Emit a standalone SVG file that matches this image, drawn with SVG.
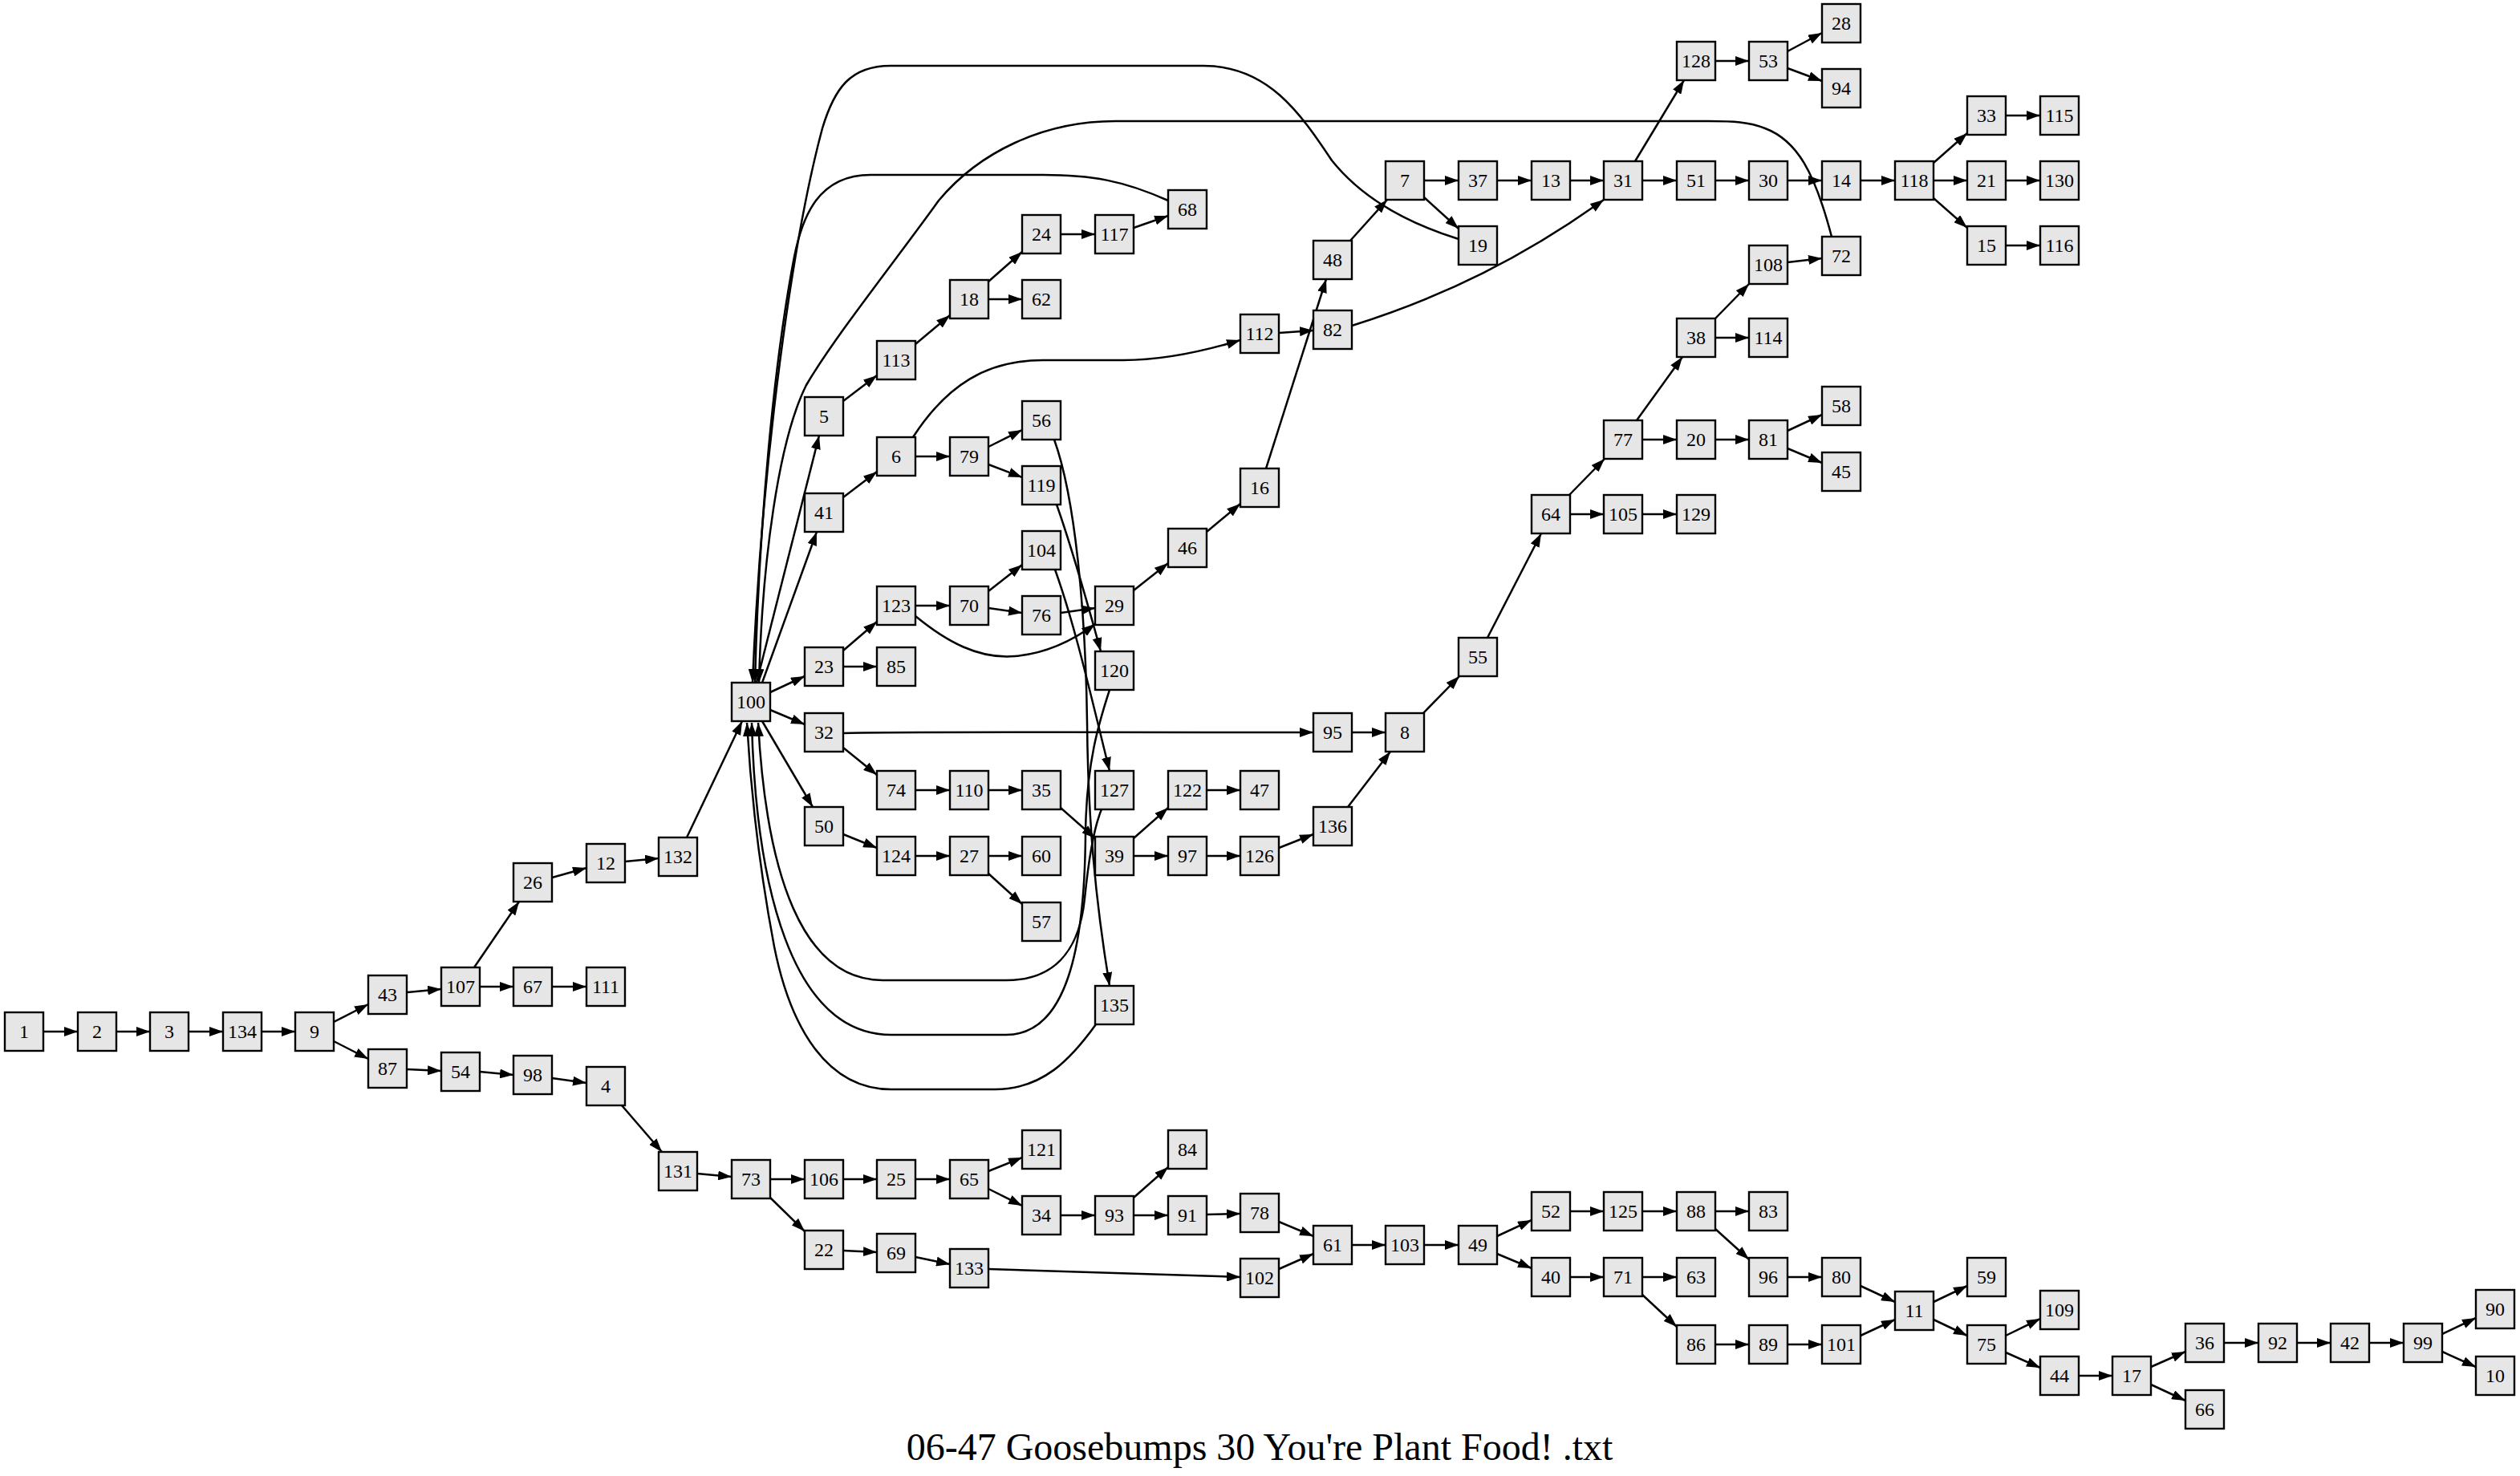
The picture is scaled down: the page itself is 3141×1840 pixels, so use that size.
<svg xmlns="http://www.w3.org/2000/svg" width="3141" height="1840" viewBox="0 0 3141 1840">
<style>
.node rect{fill:#e6e6e6;stroke:#000;stroke-width:2.4}
.node text{font-family:"Liberation Serif","Times New Roman",serif;font-size:24px;text-anchor:middle;fill:#000}
#edges path{fill:none;stroke:#000;stroke-width:2.5;marker-end:url(#ah)}
.title{font-family:"Liberation Serif","Times New Roman",serif;font-size:48px;text-anchor:middle;fill:#000}
</style>
<defs>
<marker id="ah" viewBox="0 0 17 12" refX="17" refY="6" markerWidth="17" markerHeight="12" markerUnits="userSpaceOnUse" orient="auto"><path d="M0,0 L17,6 L0,12 z" fill="#000"/></marker>
</defs>
<rect width="3141" height="1840" fill="#fff"/>
<g id="edges">
<path d="M54 1286L97 1286"/>
<path d="M145 1286L187 1286"/>
<path d="M235 1286L278 1286"/>
<path d="M326 1286L368 1286"/>
<path d="M416 1274L459 1252"/>
<path d="M416 1298L459 1320"/>
<path d="M507 1237L550 1233"/>
<path d="M598 1230L640 1230"/>
<path d="M688 1230L731 1230"/>
<path d="M591 1206L647 1124"/>
<path d="M688 1094L731 1082"/>
<path d="M779 1074L821 1070"/>
<path d="M856 1044L925 899"/>
<path d="M507 1333L550 1335"/>
<path d="M598 1336L640 1340"/>
<path d="M688 1344L731 1350"/>
<path d="M775 1378L825 1436"/>
<path d="M869 1463L912 1467"/>
<path d="M960 1470L1003 1470"/>
<path d="M1051 1470L1093 1470"/>
<path d="M1141 1470L1184 1470"/>
<path d="M1232 1460L1274 1443"/>
<path d="M1232 1482L1274 1503"/>
<path d="M1322 1515L1365 1515"/>
<path d="M1413 1493L1456 1455"/>
<path d="M1413 1515L1456 1515"/>
<path d="M1504 1514L1546 1513"/>
<path d="M1594 1523L1637 1541"/>
<path d="M960 1493L1003 1535"/>
<path d="M1051 1559L1093 1561"/>
<path d="M1141 1567L1184 1576"/>
<path d="M1232 1582L1546 1592"/>
<path d="M1594 1582L1637 1563"/>
<path d="M1685 1552L1727 1552"/>
<path d="M1775 1552L1818 1552"/>
<path d="M1866 1541L1909 1521"/>
<path d="M1866 1563L1909 1581"/>
<path d="M1957 1510L1999 1510"/>
<path d="M2047 1510L2090 1510"/>
<path d="M2138 1510L2180 1510"/>
<path d="M2138 1532L2180 1570"/>
<path d="M2228 1592L2271 1592"/>
<path d="M2319 1603L2362 1623"/>
<path d="M1957 1592L1999 1592"/>
<path d="M2047 1592L2090 1592"/>
<path d="M2047 1614L2090 1654"/>
<path d="M2138 1676L2180 1676"/>
<path d="M2228 1676L2271 1676"/>
<path d="M2319 1665L2362 1645"/>
<path d="M2410 1623L2452 1603"/>
<path d="M2410 1645L2452 1665"/>
<path d="M2500 1665L2543 1644"/>
<path d="M2500 1686L2543 1705"/>
<path d="M2591 1715L2633 1715"/>
<path d="M2681 1704L2724 1685"/>
<path d="M2681 1726L2724 1746"/>
<path d="M2772 1674L2815 1674"/>
<path d="M2863 1674L2905 1674"/>
<path d="M2953 1674L2996 1674"/>
<path d="M3044 1663L3086 1643"/>
<path d="M3044 1685L3086 1704"/>
<path d="M943 851L1021 543"/>
<path d="M950 851L1018 663"/>
<path d="M960 863L1003 843"/>
<path d="M960 885L1003 903"/>
<path d="M950 899L1013 1006"/>
<path d="M1051 500L1093 468"/>
<path d="M1141 429L1184 393"/>
<path d="M1232 351L1274 314"/>
<path d="M1232 373L1274 373"/>
<path d="M1322 292L1365 292"/>
<path d="M1413 284L1456 269"/>
<path d="M1051 620L1093 588"/>
<path d="M1141 569L1184 569"/>
<path d="M1232 557L1274 536"/>
<path d="M1232 579L1274 595"/>
<path d="M1051 811L1093 775"/>
<path d="M1051 831L1093 831"/>
<path d="M1141 755L1184 755"/>
<path d="M1232 737L1274 704"/>
<path d="M1232 758L1274 764"/>
<path d="M1322 764L1365 758"/>
<path d="M1413 736L1456 702"/>
<path d="M1504 663L1546 628"/>
<path d="M1578 584L1653 348"/>
<path d="M1683 300L1729 249"/>
<path d="M1775 225L1818 225"/>
<path d="M1866 225L1909 225"/>
<path d="M1957 225L1999 225"/>
<path d="M1775 246L1818 285"/>
<path d="M2047 225L2090 225"/>
<path d="M2138 225L2180 225"/>
<path d="M2228 225L2271 225"/>
<path d="M2319 225L2362 225"/>
<path d="M2410 203L2452 166"/>
<path d="M2410 225L2452 225"/>
<path d="M2410 247L2452 284"/>
<path d="M2500 144L2543 144"/>
<path d="M2500 225L2543 225"/>
<path d="M2500 306L2543 306"/>
<path d="M2038 201L2099 100"/>
<path d="M2138 76L2180 76"/>
<path d="M2228 64L2271 41"/>
<path d="M2228 85L2271 101"/>
<path d="M1594 415L1637 412"/>
<path d="M1051 914C1100 912 1200 913 1637 913"/>
<path d="M1685 913L1727 913"/>
<path d="M1774 889L1819 843"/>
<path d="M1854 795L1921 665"/>
<path d="M1956 617L2000 572"/>
<path d="M1957 641L1999 641"/>
<path d="M2047 641L2090 641"/>
<path d="M2040 524L2097 445"/>
<path d="M2047 548L2090 548"/>
<path d="M2138 548L2180 548"/>
<path d="M2228 537L2271 517"/>
<path d="M2228 559L2271 577"/>
<path d="M2138 397L2180 354"/>
<path d="M2138 421L2180 421"/>
<path d="M2228 327L2271 322"/>
<path d="M1141 985L1184 985"/>
<path d="M1232 985L1274 985"/>
<path d="M1322 1007L1365 1045"/>
<path d="M1051 1040L1093 1057"/>
<path d="M1141 1067L1184 1067"/>
<path d="M1232 1067L1274 1067"/>
<path d="M1232 1089L1274 1127"/>
<path d="M1051 932L1093 966"/>
<path d="M1413 1045L1456 1007"/>
<path d="M1504 985L1546 985"/>
<path d="M1413 1067L1456 1067"/>
<path d="M1504 1067L1546 1067"/>
<path d="M1594 1057L1637 1040"/>
<path d="M1680 1006L1733 937"/>
<path d="M1818 298C1760 280 1700 250 1660 200C1620 140 1580 82 1500 82L1110 82C1060 82 1040 110 1025 160C990 290 950 560 938 851"/>
<path d="M1456 250C1400 225 1360 218 1300 218L1085 218C1020 218 1000 270 990 320C965 450 946 650 941 851"/>
<path d="M2283 295C2262 215 2240 175 2200 160C2180 152 2160 151 2130 151L1390 151C1300 151 1220 190 1170 250C1120 320 1040 420 1005 480C970 550 950 700 946 851"/>
<path d="M1138 545C1180 480 1230 449 1300 449L1400 449C1450 449 1500 438 1546 424"/>
<path d="M1685 406C1800 370 1900 320 1999 249"/>
<path d="M1141 768C1180 800 1220 822 1265 818C1300 815 1335 800 1365 778"/>
<path d="M1314 548C1340 620 1353 760 1355 900C1356 1020 1365 1120 1383 1229"/>
<path d="M1317 629C1335 680 1355 750 1372 812"/>
<path d="M1315 710C1340 780 1358 860 1383 961"/>
<path d="M1373 1009C1362 1035 1356 1080 1352 1120C1345 1190 1310 1222 1254 1222L1100 1222C1000 1222 955 1090 945 901"/>
<path d="M1383 860C1370 900 1354 950 1353 1040C1352 1180 1330 1290 1254 1290L1111 1290C985 1290 942 1100 937 901"/>
<path d="M1366 1277C1335 1320 1300 1358 1240 1358L1111 1358C1030 1358 985 1280 965 1180C948 1090 936 990 931 901"/>
</g>
<g id="n1" class="node"><rect x="6" y="1262" width="48" height="48"/><text x="30" y="1294">1</text></g>
<g id="n2" class="node"><rect x="97" y="1262" width="48" height="48"/><text x="121" y="1294">2</text></g>
<g id="n3" class="node"><rect x="187" y="1262" width="48" height="48"/><text x="211" y="1294">3</text></g>
<g id="n134" class="node"><rect x="278" y="1262" width="48" height="48"/><text x="302" y="1294">134</text></g>
<g id="n9" class="node"><rect x="368" y="1262" width="48" height="48"/><text x="392" y="1294">9</text></g>
<g id="n43" class="node"><rect x="459" y="1216" width="48" height="48"/><text x="483" y="1248">43</text></g>
<g id="n87" class="node"><rect x="459" y="1308" width="48" height="48"/><text x="483" y="1340">87</text></g>
<g id="n107" class="node"><rect x="550" y="1206" width="48" height="48"/><text x="574" y="1238">107</text></g>
<g id="n54" class="node"><rect x="550" y="1312" width="48" height="48"/><text x="574" y="1344">54</text></g>
<g id="n26" class="node"><rect x="640" y="1076" width="48" height="48"/><text x="664" y="1108">26</text></g>
<g id="n67" class="node"><rect x="640" y="1206" width="48" height="48"/><text x="664" y="1238">67</text></g>
<g id="n98" class="node"><rect x="640" y="1316" width="48" height="48"/><text x="664" y="1348">98</text></g>
<g id="n12" class="node"><rect x="731" y="1052" width="48" height="48"/><text x="755" y="1084">12</text></g>
<g id="n111" class="node"><rect x="731" y="1206" width="48" height="48"/><text x="755" y="1238">111</text></g>
<g id="n4" class="node"><rect x="731" y="1330" width="48" height="48"/><text x="755" y="1362">4</text></g>
<g id="n132" class="node"><rect x="821" y="1044" width="48" height="48"/><text x="845" y="1076">132</text></g>
<g id="n131" class="node"><rect x="821" y="1436" width="48" height="48"/><text x="845" y="1468">131</text></g>
<g id="n100" class="node"><rect x="912" y="851" width="48" height="48"/><text x="936" y="883">100</text></g>
<g id="n73" class="node"><rect x="912" y="1446" width="48" height="48"/><text x="936" y="1478">73</text></g>
<g id="n5" class="node"><rect x="1003" y="495" width="48" height="48"/><text x="1027" y="527">5</text></g>
<g id="n41" class="node"><rect x="1003" y="615" width="48" height="48"/><text x="1027" y="647">41</text></g>
<g id="n23" class="node"><rect x="1003" y="807" width="48" height="48"/><text x="1027" y="839">23</text></g>
<g id="n32" class="node"><rect x="1003" y="889" width="48" height="48"/><text x="1027" y="921">32</text></g>
<g id="n50" class="node"><rect x="1003" y="1006" width="48" height="48"/><text x="1027" y="1038">50</text></g>
<g id="n106" class="node"><rect x="1003" y="1446" width="48" height="48"/><text x="1027" y="1478">106</text></g>
<g id="n22" class="node"><rect x="1003" y="1534" width="48" height="48"/><text x="1027" y="1566">22</text></g>
<g id="n113" class="node"><rect x="1093" y="425" width="48" height="48"/><text x="1117" y="457">113</text></g>
<g id="n6" class="node"><rect x="1093" y="545" width="48" height="48"/><text x="1117" y="577">6</text></g>
<g id="n123" class="node"><rect x="1093" y="731" width="48" height="48"/><text x="1117" y="763">123</text></g>
<g id="n85" class="node"><rect x="1093" y="807" width="48" height="48"/><text x="1117" y="839">85</text></g>
<g id="n74" class="node"><rect x="1093" y="961" width="48" height="48"/><text x="1117" y="993">74</text></g>
<g id="n124" class="node"><rect x="1093" y="1043" width="48" height="48"/><text x="1117" y="1075">124</text></g>
<g id="n25" class="node"><rect x="1093" y="1446" width="48" height="48"/><text x="1117" y="1478">25</text></g>
<g id="n69" class="node"><rect x="1093" y="1538" width="48" height="48"/><text x="1117" y="1570">69</text></g>
<g id="n18" class="node"><rect x="1184" y="349" width="48" height="48"/><text x="1208" y="381">18</text></g>
<g id="n79" class="node"><rect x="1184" y="545" width="48" height="48"/><text x="1208" y="577">79</text></g>
<g id="n70" class="node"><rect x="1184" y="731" width="48" height="48"/><text x="1208" y="763">70</text></g>
<g id="n110" class="node"><rect x="1184" y="961" width="48" height="48"/><text x="1208" y="993">110</text></g>
<g id="n27" class="node"><rect x="1184" y="1043" width="48" height="48"/><text x="1208" y="1075">27</text></g>
<g id="n65" class="node"><rect x="1184" y="1446" width="48" height="48"/><text x="1208" y="1478">65</text></g>
<g id="n133" class="node"><rect x="1184" y="1557" width="48" height="48"/><text x="1208" y="1589">133</text></g>
<g id="n24" class="node"><rect x="1274" y="268" width="48" height="48"/><text x="1298" y="300">24</text></g>
<g id="n62" class="node"><rect x="1274" y="349" width="48" height="48"/><text x="1298" y="381">62</text></g>
<g id="n56" class="node"><rect x="1274" y="500" width="48" height="48"/><text x="1298" y="532">56</text></g>
<g id="n119" class="node"><rect x="1274" y="581" width="48" height="48"/><text x="1298" y="613">119</text></g>
<g id="n104" class="node"><rect x="1274" y="662" width="48" height="48"/><text x="1298" y="694">104</text></g>
<g id="n76" class="node"><rect x="1274" y="743" width="48" height="48"/><text x="1298" y="775">76</text></g>
<g id="n35" class="node"><rect x="1274" y="961" width="48" height="48"/><text x="1298" y="993">35</text></g>
<g id="n60" class="node"><rect x="1274" y="1043" width="48" height="48"/><text x="1298" y="1075">60</text></g>
<g id="n57" class="node"><rect x="1274" y="1125" width="48" height="48"/><text x="1298" y="1157">57</text></g>
<g id="n121" class="node"><rect x="1274" y="1409" width="48" height="48"/><text x="1298" y="1441">121</text></g>
<g id="n34" class="node"><rect x="1274" y="1491" width="48" height="48"/><text x="1298" y="1523">34</text></g>
<g id="n117" class="node"><rect x="1365" y="268" width="48" height="48"/><text x="1389" y="300">117</text></g>
<g id="n29" class="node"><rect x="1365" y="731" width="48" height="48"/><text x="1389" y="763">29</text></g>
<g id="n120" class="node"><rect x="1365" y="812" width="48" height="48"/><text x="1389" y="844">120</text></g>
<g id="n127" class="node"><rect x="1365" y="961" width="48" height="48"/><text x="1389" y="993">127</text></g>
<g id="n39" class="node"><rect x="1365" y="1043" width="48" height="48"/><text x="1389" y="1075">39</text></g>
<g id="n135" class="node"><rect x="1365" y="1229" width="48" height="48"/><text x="1389" y="1261">135</text></g>
<g id="n93" class="node"><rect x="1365" y="1491" width="48" height="48"/><text x="1389" y="1523">93</text></g>
<g id="n68" class="node"><rect x="1456" y="237" width="48" height="48"/><text x="1480" y="269">68</text></g>
<g id="n46" class="node"><rect x="1456" y="659" width="48" height="48"/><text x="1480" y="691">46</text></g>
<g id="n122" class="node"><rect x="1456" y="961" width="48" height="48"/><text x="1480" y="993">122</text></g>
<g id="n97" class="node"><rect x="1456" y="1043" width="48" height="48"/><text x="1480" y="1075">97</text></g>
<g id="n84" class="node"><rect x="1456" y="1409" width="48" height="48"/><text x="1480" y="1441">84</text></g>
<g id="n91" class="node"><rect x="1456" y="1491" width="48" height="48"/><text x="1480" y="1523">91</text></g>
<g id="n112" class="node"><rect x="1546" y="392" width="48" height="48"/><text x="1570" y="424">112</text></g>
<g id="n16" class="node"><rect x="1546" y="584" width="48" height="48"/><text x="1570" y="616">16</text></g>
<g id="n47" class="node"><rect x="1546" y="961" width="48" height="48"/><text x="1570" y="993">47</text></g>
<g id="n126" class="node"><rect x="1546" y="1043" width="48" height="48"/><text x="1570" y="1075">126</text></g>
<g id="n78" class="node"><rect x="1546" y="1488" width="48" height="48"/><text x="1570" y="1520">78</text></g>
<g id="n102" class="node"><rect x="1546" y="1569" width="48" height="48"/><text x="1570" y="1601">102</text></g>
<g id="n48" class="node"><rect x="1637" y="300" width="48" height="48"/><text x="1661" y="332">48</text></g>
<g id="n82" class="node"><rect x="1637" y="387" width="48" height="48"/><text x="1661" y="419">82</text></g>
<g id="n95" class="node"><rect x="1637" y="889" width="48" height="48"/><text x="1661" y="921">95</text></g>
<g id="n136" class="node"><rect x="1637" y="1006" width="48" height="48"/><text x="1661" y="1038">136</text></g>
<g id="n61" class="node"><rect x="1637" y="1528" width="48" height="48"/><text x="1661" y="1560">61</text></g>
<g id="n7" class="node"><rect x="1727" y="201" width="48" height="48"/><text x="1751" y="233">7</text></g>
<g id="n8" class="node"><rect x="1727" y="889" width="48" height="48"/><text x="1751" y="921">8</text></g>
<g id="n103" class="node"><rect x="1727" y="1528" width="48" height="48"/><text x="1751" y="1560">103</text></g>
<g id="n37" class="node"><rect x="1818" y="201" width="48" height="48"/><text x="1842" y="233">37</text></g>
<g id="n19" class="node"><rect x="1818" y="282" width="48" height="48"/><text x="1842" y="314">19</text></g>
<g id="n55" class="node"><rect x="1818" y="795" width="48" height="48"/><text x="1842" y="827">55</text></g>
<g id="n49" class="node"><rect x="1818" y="1528" width="48" height="48"/><text x="1842" y="1560">49</text></g>
<g id="n13" class="node"><rect x="1909" y="201" width="48" height="48"/><text x="1933" y="233">13</text></g>
<g id="n64" class="node"><rect x="1909" y="617" width="48" height="48"/><text x="1933" y="649">64</text></g>
<g id="n52" class="node"><rect x="1909" y="1486" width="48" height="48"/><text x="1933" y="1518">52</text></g>
<g id="n40" class="node"><rect x="1909" y="1568" width="48" height="48"/><text x="1933" y="1600">40</text></g>
<g id="n31" class="node"><rect x="1999" y="201" width="48" height="48"/><text x="2023" y="233">31</text></g>
<g id="n77" class="node"><rect x="1999" y="524" width="48" height="48"/><text x="2023" y="556">77</text></g>
<g id="n105" class="node"><rect x="1999" y="617" width="48" height="48"/><text x="2023" y="649">105</text></g>
<g id="n125" class="node"><rect x="1999" y="1486" width="48" height="48"/><text x="2023" y="1518">125</text></g>
<g id="n71" class="node"><rect x="1999" y="1568" width="48" height="48"/><text x="2023" y="1600">71</text></g>
<g id="n128" class="node"><rect x="2090" y="52" width="48" height="48"/><text x="2114" y="84">128</text></g>
<g id="n51" class="node"><rect x="2090" y="201" width="48" height="48"/><text x="2114" y="233">51</text></g>
<g id="n38" class="node"><rect x="2090" y="397" width="48" height="48"/><text x="2114" y="429">38</text></g>
<g id="n20" class="node"><rect x="2090" y="524" width="48" height="48"/><text x="2114" y="556">20</text></g>
<g id="n129" class="node"><rect x="2090" y="617" width="48" height="48"/><text x="2114" y="649">129</text></g>
<g id="n88" class="node"><rect x="2090" y="1486" width="48" height="48"/><text x="2114" y="1518">88</text></g>
<g id="n63" class="node"><rect x="2090" y="1568" width="48" height="48"/><text x="2114" y="1600">63</text></g>
<g id="n86" class="node"><rect x="2090" y="1652" width="48" height="48"/><text x="2114" y="1684">86</text></g>
<g id="n53" class="node"><rect x="2180" y="52" width="48" height="48"/><text x="2204" y="84">53</text></g>
<g id="n30" class="node"><rect x="2180" y="201" width="48" height="48"/><text x="2204" y="233">30</text></g>
<g id="n108" class="node"><rect x="2180" y="306" width="48" height="48"/><text x="2204" y="338">108</text></g>
<g id="n114" class="node"><rect x="2180" y="397" width="48" height="48"/><text x="2204" y="429">114</text></g>
<g id="n81" class="node"><rect x="2180" y="524" width="48" height="48"/><text x="2204" y="556">81</text></g>
<g id="n83" class="node"><rect x="2180" y="1486" width="48" height="48"/><text x="2204" y="1518">83</text></g>
<g id="n96" class="node"><rect x="2180" y="1568" width="48" height="48"/><text x="2204" y="1600">96</text></g>
<g id="n89" class="node"><rect x="2180" y="1652" width="48" height="48"/><text x="2204" y="1684">89</text></g>
<g id="n28" class="node"><rect x="2271" y="5" width="48" height="48"/><text x="2295" y="37">28</text></g>
<g id="n94" class="node"><rect x="2271" y="86" width="48" height="48"/><text x="2295" y="118">94</text></g>
<g id="n14" class="node"><rect x="2271" y="201" width="48" height="48"/><text x="2295" y="233">14</text></g>
<g id="n72" class="node"><rect x="2271" y="295" width="48" height="48"/><text x="2295" y="327">72</text></g>
<g id="n58" class="node"><rect x="2271" y="482" width="48" height="48"/><text x="2295" y="514">58</text></g>
<g id="n45" class="node"><rect x="2271" y="564" width="48" height="48"/><text x="2295" y="596">45</text></g>
<g id="n80" class="node"><rect x="2271" y="1568" width="48" height="48"/><text x="2295" y="1600">80</text></g>
<g id="n101" class="node"><rect x="2271" y="1652" width="48" height="48"/><text x="2295" y="1684">101</text></g>
<g id="n118" class="node"><rect x="2362" y="201" width="48" height="48"/><text x="2386" y="233">118</text></g>
<g id="n11" class="node"><rect x="2362" y="1610" width="48" height="48"/><text x="2386" y="1642">11</text></g>
<g id="n33" class="node"><rect x="2452" y="120" width="48" height="48"/><text x="2476" y="152">33</text></g>
<g id="n21" class="node"><rect x="2452" y="201" width="48" height="48"/><text x="2476" y="233">21</text></g>
<g id="n15" class="node"><rect x="2452" y="282" width="48" height="48"/><text x="2476" y="314">15</text></g>
<g id="n59" class="node"><rect x="2452" y="1568" width="48" height="48"/><text x="2476" y="1600">59</text></g>
<g id="n75" class="node"><rect x="2452" y="1652" width="48" height="48"/><text x="2476" y="1684">75</text></g>
<g id="n115" class="node"><rect x="2543" y="120" width="48" height="48"/><text x="2567" y="152">115</text></g>
<g id="n130" class="node"><rect x="2543" y="201" width="48" height="48"/><text x="2567" y="233">130</text></g>
<g id="n116" class="node"><rect x="2543" y="282" width="48" height="48"/><text x="2567" y="314">116</text></g>
<g id="n109" class="node"><rect x="2543" y="1609" width="48" height="48"/><text x="2567" y="1641">109</text></g>
<g id="n44" class="node"><rect x="2543" y="1691" width="48" height="48"/><text x="2567" y="1723">44</text></g>
<g id="n17" class="node"><rect x="2633" y="1691" width="48" height="48"/><text x="2657" y="1723">17</text></g>
<g id="n36" class="node"><rect x="2724" y="1650" width="48" height="48"/><text x="2748" y="1682">36</text></g>
<g id="n66" class="node"><rect x="2724" y="1733" width="48" height="48"/><text x="2748" y="1765">66</text></g>
<g id="n92" class="node"><rect x="2815" y="1650" width="48" height="48"/><text x="2839" y="1682">92</text></g>
<g id="n42" class="node"><rect x="2905" y="1650" width="48" height="48"/><text x="2929" y="1682">42</text></g>
<g id="n99" class="node"><rect x="2996" y="1650" width="48" height="48"/><text x="3020" y="1682">99</text></g>
<g id="n90" class="node"><rect x="3086" y="1608" width="48" height="48"/><text x="3110" y="1640">90</text></g>
<g id="n10" class="node"><rect x="3086" y="1691" width="48" height="48"/><text x="3110" y="1723">10</text></g>
<text class="title" x="1570" y="1820">06-47 Goosebumps 30 You're Plant Food! .txt</text>
</svg>
